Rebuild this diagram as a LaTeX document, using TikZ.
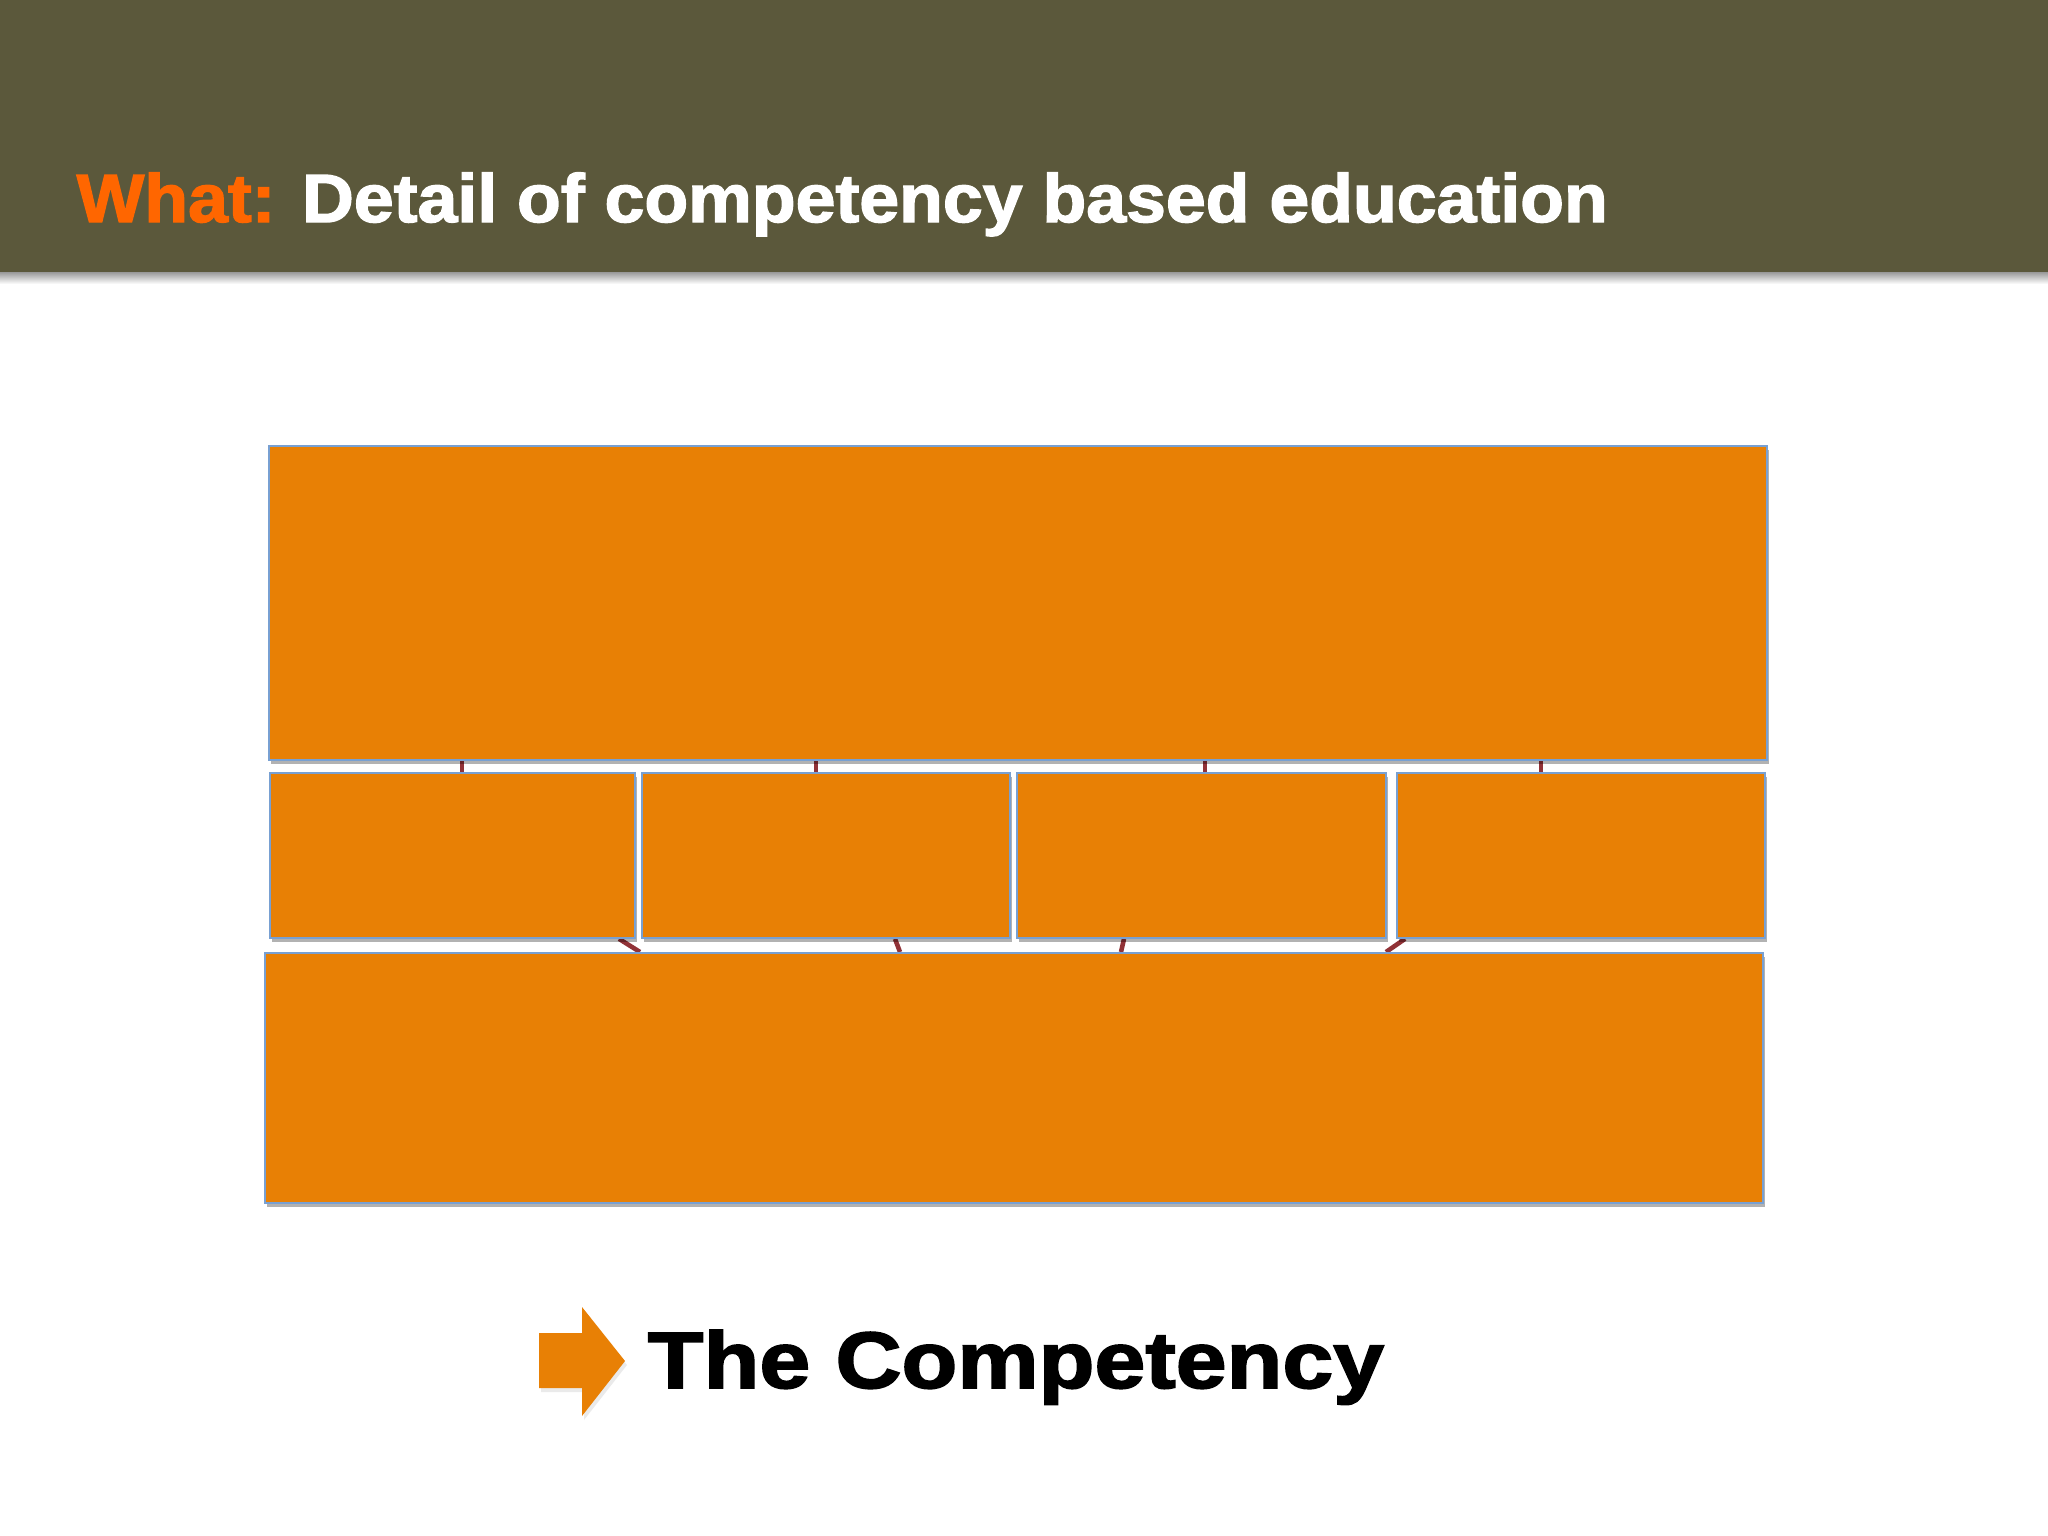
\documentclass[tikz,border=0pt]{standalone}
\usepackage{fontspec}
\setmainfont{Liberation Sans}
\newfontfamily\headfont[FakeBold=2]{Liberation Sans Bold}
\usetikzlibrary{shadows,backgrounds,calc}
\definecolor{band}{RGB}{91,88,59}
\definecolor{whatc}{RGB}{255,102,0}
\definecolor{boxc}{RGB}{232,128,5}
\definecolor{edgec}{RGB}{120,160,210}
\definecolor{connc}{RGB}{145,50,55}
\tikzset{
  blk/.style={draw=edgec, line width=0.5pt, fill=boxc, inner sep=0pt, anchor=north west,
    drop shadow={shadow xshift=0.6pt, shadow yshift=-1.2pt, opacity=0.3, fill=black}},
  conn/.style={draw=connc, line width=1.3pt},
  titletext/.style={anchor=base west, inner sep=0pt, font=\headfont\fontsize{19.4pt}{22pt}\selectfont},
  bigtext/.style={anchor=base west, inner sep=0pt, font=\headfont\fontsize{22.8pt}{26pt}\selectfont}
}
\begin{document}
\begin{tikzpicture}[x=0.01cm, y=-0.01cm]
\useasboundingbox (0,0) rectangle (2048,1536);
% header
\shade[top color=black!40, bottom color=white] (0,272) rectangle (2048,284);
\fill[band] (0,0) rectangle (2048,272);
\node[titletext] (title) at (76,222) {\scalebox{1.05}[1]{\textcolor{whatc}{What:} \textcolor{white}{Detail of competency based education}}};
% boxes
\node[blk, minimum width=14.97cm, minimum height=3.14cm] (t) at (268,445) {};
\node[blk, minimum width=3.65cm, minimum height=1.65cm] (m1) at (269,772) {};
\node[blk, minimum width=3.68cm, minimum height=1.65cm] (m2) at (641,772) {};
\node[blk, minimum width=3.69cm, minimum height=1.65cm] (m3) at (1016,772) {};
\node[blk, minimum width=3.68cm, minimum height=1.65cm] (m4) at (1396,772) {};
\node[blk, minimum width=14.97cm, minimum height=2.50cm] (b) at (264,952) {};
% connectors
\begin{scope}[on background layer]
\fill[white] (0,0) rectangle (2048,1536);
\draw[conn] (t.south -| 462,0) -- (m1.north -| 462,0);
\draw[conn] (t.south -| 816,0) -- (m2.north -| 816,0);
\draw[conn] (t.south -| 1205,0) -- (m3.north -| 1205,0);
\draw[conn] (t.south -| 1541,0) -- (m4.north -| 1541,0);
\draw[conn] (m1.south -| 619,0) -- (b.north -| 640,0);
\draw[conn] (m2.south -| 895,0) -- (b.north -| 900,0);
\draw[conn] (m3.south -| 1124,0) -- (b.north -| 1121,0);
\draw[conn] (m4.south -| 1405,0) -- (b.north -| 1386,0);
\end{scope}
% arrow
\fill[black!20, opacity=0.4] (541,1337) -- (584,1337) -- (584,1311) -- (627,1365) -- (584,1420) -- (584,1392) -- (541,1392) -- cycle;
\fill[boxc] (539,1333) -- (582,1333) -- (582,1307) -- (625,1361) -- (582,1416) -- (582,1388) -- (539,1388) -- cycle;
\node[bigtext] (comp) at (647,1388) {\scalebox{1.14}[1]{The Competency}};
\end{tikzpicture}
\end{document}
